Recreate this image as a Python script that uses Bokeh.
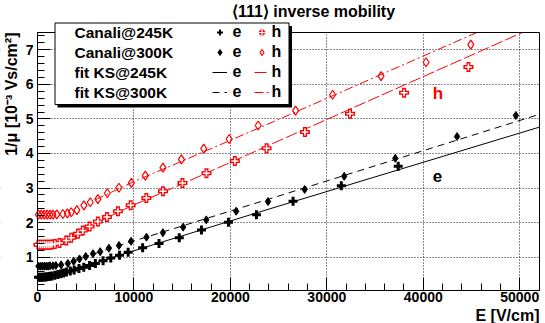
import math
from bokeh.plotting import figure
from bokeh.models import (Range1d, FixedTicker, NumeralTickFormatter, Label,
                          BoxAnnotation, Legend, LegendItem, ColumnDataSource,
                          CDSView, IndexFilter)
from bokeh.core.properties import value
from bokeh.embed import file_html
from bokeh.resources import INLINE

# ---------------- data ----------------
# Canali@245K electrons (E in V/cm, 1/mu in 1e-3 Vs/cm^2)
e245_E = [100, 300, 500, 700, 900, 1100, 1300, 1500, 1800, 2100, 2400, 2700, 3000,
          3400, 3800, 4300, 4800, 5400, 6000, 6800, 7600, 8500, 9400, 10900, 12600,
          14700, 17000, 19800, 22700, 26500, 31500, 37400]
e245_y = [0.42, 0.42, 0.42, 0.43, 0.43, 0.44, 0.45, 0.46, 0.48, 0.50, 0.52, 0.54, 0.57,
          0.60, 0.63, 0.67, 0.71, 0.76, 0.82, 0.90, 0.98, 1.06, 1.14, 1.27, 1.40,
          1.56, 1.79, 2.01, 2.23, 2.62, 3.07, 3.63]
# Canali@300K electrons
e300_E = [100, 300, 500, 700, 900, 1100, 1300, 1600, 1900, 2450, 3150, 3750, 4350, 5000,
          5750, 6500, 7400, 8450, 9700, 11300, 13000, 15100, 17500, 20600, 23900, 27700,
          31800, 37100, 43500, 49600]
e300_y = [0.74, 0.74, 0.74, 0.74, 0.74, 0.74, 0.75, 0.75, 0.76, 0.78, 0.82, 0.88, 0.95, 1.02,
          1.10, 1.16, 1.26, 1.34, 1.46, 1.58, 1.71, 1.87, 2.08, 2.33, 2.61, 2.96,
          3.34, 3.86, 4.49, 5.10]
# Canali@245K holes
h245_E = [100, 300, 500, 700, 900, 1100, 1300, 1500, 1800, 2280, 2980, 3500, 4190, 4700,
          5400, 6260, 7200, 8340, 9660, 11290, 13010, 15030, 17520, 20460, 23750, 27730,
          32400, 38010, 44680]
h245_y = [1.36, 1.36, 1.36, 1.36, 1.36, 1.36, 1.36, 1.37, 1.38, 1.41, 1.48, 1.56, 1.68, 1.77,
          1.89, 2.03, 2.16, 2.33, 2.50, 2.71, 2.91, 3.15, 3.43, 3.78, 4.15, 4.62,
          5.15, 5.76, 6.50]
# Canali@300K holes
h300_E = [100, 400, 700, 1000, 1300, 1600, 2000, 2630, 3100, 3500, 4080, 4810, 5470, 6260,
          7240, 8440, 9730, 11180, 13010, 14920, 17240, 19870, 22880, 26760, 30600,
          35620, 40290, 44930]
h300_y = [2.23, 2.23, 2.23, 2.23, 2.23, 2.23, 2.24, 2.25, 2.27, 2.30, 2.36, 2.50, 2.59, 2.68,
          2.85, 3.01, 3.15, 3.36, 3.59, 3.83, 4.14, 4.42, 4.81, 5.24, 5.70,
          6.24, 6.64, 7.15]

# fit KS curves (vertices)
fit_e245_E = [4000, 8000, 12000, 24090, 52000]
fit_e245_y = [0.65, 1.01, 1.36, 2.40, 4.76]
fit_e300_E = [3500, 8000, 13000, 24090, 52000]
fit_e300_y = [0.87, 1.30, 1.73, 2.69, 5.13]
fit_h245_E = [4500, 9660, 15000, 25130, 50200]
fit_h245_y = [1.78, 2.47, 3.12, 4.38, 7.49]
fit_h300_E = [6000, 10000, 15000, 25130, 45550]
fit_h300_y = [2.66, 3.19, 3.78, 5.00, 7.50]

x_ticks = [0, 10000, 20000, 30000, 40000, 50000]
x_minor = list(range(0, 52001, 2000))
y_ticks = [1, 2, 3, 4, 5, 6, 7]
y_minor = [round(0.2 * i, 1) for i in range(1, 38)]

legend_rows = ["Canali@245K", "Canali@300K", "fit KS@245K", "fit KS@300K"]

# ---------------- layout ----------------
X_MIN, X_MAX = 0, 52050        # plotted axis extent
Y_MIN, Y_MAX = 0.037, 7.50
W, H = 545, 323
PL, PT, PW, PH = 37, 32, 502, 258   # axes box inside the canvas (pixels)
KX = (X_MAX - X_MIN) / PW
KY = (Y_MAX - Y_MIN) / PH
FONT = "Liberation Sans"


def sx(px):  # canvas x -> data x
    return X_MIN + (px - PL) * KX


def sy(py):  # canvas y -> data y
    return Y_MAX - (py - PT) * KY


p = figure(width=W, height=H, min_border=0,
           x_range=Range1d(sx(0), sx(W)), y_range=Range1d(sy(H), sy(0)),
           output_backend="svg", toolbar_location=None)
p.title.visible = False
p.background_fill_color = "white"
p.border_fill_color = "white"
p.outline_line_alpha = 0

xt = FixedTicker(ticks=x_ticks, minor_ticks=x_minor)
yt = FixedTicker(ticks=y_ticks, minor_ticks=y_minor)
p.xaxis.ticker = xt
p.yaxis.ticker = yt
p.xaxis.formatter = NumeralTickFormatter(format="0")
p.xaxis.fixed_location = Y_MIN
p.yaxis.fixed_location = X_MIN
p.xaxis.bounds = (X_MIN, X_MAX)
p.yaxis.bounds = (Y_MIN, Y_MAX)
p.xgrid.ticker = xt
p.ygrid.ticker = yt
for g in (p.xgrid, p.ygrid):
    g.grid_line_color = "black"
    g.grid_line_dash = "1 2"
    g.grid_line_width = 1
    g.grid_line_alpha = 0.9

# white covers so that grid lines stay inside the axes box
for kw in (dict(bottom=Y_MAX), dict(top=Y_MIN), dict(right=X_MIN), dict(left=X_MAX)):
    p.add_layout(BoxAnnotation(fill_color="white", fill_alpha=1, line_alpha=0,
                               level="underlay", **kw))

for ax in (p.xaxis[0], p.yaxis[0]):
    ax.axis_line_color = "black"
    ax.major_tick_line_color = "black"
    ax.minor_tick_line_color = "black"
    ax.major_tick_in = 13
    ax.major_tick_out = 0
    ax.minor_tick_in = 7
    ax.minor_tick_out = 0
    ax.major_label_text_font = FONT
    ax.major_label_text_font_style = "bold"
    ax.major_label_text_font_size = "14px"
    ax.major_label_text_color = "black"
p.yaxis.major_label_standoff = 4
p.xaxis.major_label_standoff = 1

src_e245 = ColumnDataSource(dict(x=e245_E, y=e245_y))
src_h245 = ColumnDataSource(dict(x=h245_E, y=h245_y))

# legend-style markers (one point each, hidden under the full-size markers drawn later)
k_e245 = p.scatter("x", "y", source=src_e245, view=CDSView(filter=IndexFilter(indices=[0])),
                   marker="cross", size=4, line_width=2, line_color="black")
k_h245a = p.scatter("x", "y", source=src_h245, view=CDSView(filter=IndexFilter(indices=[0])),
                    marker="cross", size=4, line_width=3.5, line_color="red")
k_h245b = p.scatter("x", "y", source=src_h245, view=CDSView(filter=IndexFilter(indices=[0])),
                    marker="cross", size=4, line_width=1.2, line_color="white")

# fit lines
l_e245 = p.line(fit_e245_E, fit_e245_y, line_color="black", line_width=1)
l_e300 = p.line(fit_e300_E, fit_e300_y, line_color="black", line_width=1, line_dash="7 5")
l_h245 = p.line(fit_h245_E, fit_h245_y, line_color="red", line_width=1, line_dash="12 3")
l_h300 = p.line(fit_h300_E, fit_h300_y, line_color="red", line_width=1, line_dash="9 3 2 3")

# data points
r_e245 = p.scatter("x", "y", source=src_e245, marker="cross", size=9, line_width=3,
                   line_color="black")
r_e300 = p.scatter(e300_E, e300_y, marker="diamond", size=8, line_color="black",
                   fill_color="black")
r_h245a = p.scatter("x", "y", source=src_h245, marker="cross", size=10, line_width=4,
                    line_color="red")
r_h245b = p.scatter("x", "y", source=src_h245, marker="cross", size=7, line_width=1.5,
                    line_color="white")
r_h300 = p.scatter(h300_E, h300_y, marker="diamond", size=9, line_color="red",
                   fill_alpha=0, line_width=1.2)

# axes box outline
p.add_layout(BoxAnnotation(left=X_MIN, right=X_MAX, bottom=Y_MIN, top=Y_MAX,
                           fill_alpha=0, line_color="black", line_width=1, line_alpha=1))

# legend box with shadow
p.add_layout(BoxAnnotation(left=sx(57), right=sx(291.5), top=sy(25.5), bottom=sy(107),
                           fill_color="black", fill_alpha=1, line_alpha=0))
p.add_layout(BoxAnnotation(left=sx(54.5), right=sx(288.5), top=sy(22.5), bottom=sy(104),
                           fill_color="white", fill_alpha=1, line_color="black",
                           line_width=1, line_alpha=1))

leg_common = dict(padding=0, spacing=0, margin=0, glyph_width=15, glyph_height=20,
                  label_height=20, background_fill_alpha=0, border_line_alpha=0,
                  label_text_font=FONT, label_text_font_style="bold",
                  label_text_font_size="16px", label_text_color="black")
leg_e = Legend(items=[LegendItem(label=value("e"), renderers=[k_e245]),
                      LegendItem(label=value("e"), renderers=[r_e300]),
                      LegendItem(label=value("e"), renderers=[l_e245]),
                      LegendItem(label=value("e"), renderers=[l_e300])],
               location=(211.5, H - 102), label_standoff=6, **leg_common)
leg_h = Legend(items=[LegendItem(label=value("h"), renderers=[k_h245a, k_h245b]),
                      LegendItem(label=value("h"), renderers=[r_h300]),
                      LegendItem(label=value("h"), renderers=[l_h245]),
                      LegendItem(label=value("h"), renderers=[l_h300])],
               location=(253.5, H - 102), label_standoff=3, **leg_common)
p.add_layout(leg_e)
p.add_layout(leg_h)

for i, txt in enumerate(legend_rows):
    p.add_layout(Label(x=sx(74), y=sy(32 + 20 * i), text=txt, text_font=FONT,
                       text_font_style="bold", text_font_size="15.5px",
                       text_align="left", text_baseline="middle", text_color="black"))

# titles and axis labels
p.add_layout(Label(x=sx(313), y=sy(11), text="\u27e8111\u27e9 inverse mobility",
                   text_font=FONT, text_font_style="bold", text_font_size="16px",
                   text_align="center", text_baseline="middle", text_color="black"))
p.add_layout(Label(x=sx(539), y=sy(315), text="E [V/cm]",
                   text_font=FONT, text_font_style="bold", text_font_size="16px",
                   text_align="right", text_baseline="alphabetic", text_color="black"))
p.add_layout(Label(x=sx(11), y=sy(32), text="1/\u03bc [10\u207b\u00b3 Vs/cm\u00b2]",
                   angle=math.pi / 2, text_font=FONT, text_font_style="bold",
                   text_font_size="16px", text_align="right", text_baseline="middle",
                   text_color="black"))

# in-plot carrier labels
p.add_layout(Label(x=sx(437.5), y=sy(93), text="h", text_font=FONT, text_font_style="bold",
                   text_font_size="17px", text_align="center", text_baseline="alphabetic",
                   text_color="red"))
p.add_layout(Label(x=sx(437), y=sy(175.5), text="e", text_font=FONT, text_font_style="bold",
                   text_font_size="17px", text_align="center", text_baseline="alphabetic",
                   text_color="black"))

open("out.html", "w").write(file_html(p, INLINE))
